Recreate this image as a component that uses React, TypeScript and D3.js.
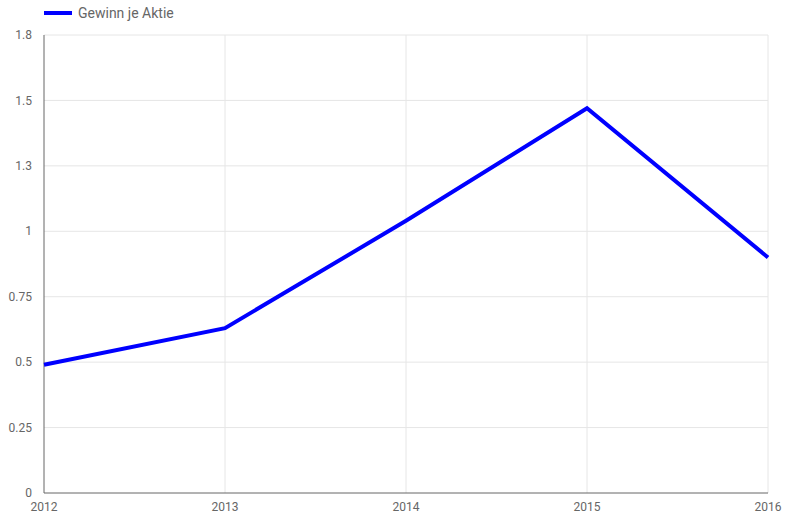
import React from "react";
import * as d3 from "d3";

const years = ["2012", "2013", "2014", "2015", "2016"];
const values = [0.49, 0.63, 1.04, 1.47, 0.9];
const yTicks = [0, 0.25, 0.5, 0.75, 1, 1.25, 1.5, 1.75];
const yTickLabels = ["0", "0.25", "0.5", "0.75", "1", "1.3", "1.5", "1.8"];
const seriesName = "Gewinn je Aktie";

const W = 802;
const H = 527;
const m = { left: 44, right: 34, top: 35, bottom: 34 };

export default function App() {
  const x = d3.scalePoint<string>().domain(years).range([m.left, W - m.right]);
  const y = d3.scaleLinear().domain([0, 1.75]).range([H - m.bottom, m.top]);
  const line = d3
    .line<number>()
    .x((_, i) => x(years[i]) as number)
    .y((d) => y(d));
  const font = "Roboto, sans-serif";
  return (
    <svg width={W} height={H} style={{ position: "absolute", left: 0, top: 0 }}>
      <rect width={W} height={H} fill="#fff" />
      {yTicks.map((t, i) =>
        i === 0 ? null : (
          <line key={"g" + i} x1={m.left} x2={W - m.right} y1={y(t)} y2={y(t)} stroke="#e6e6e6" strokeWidth={1} />
        )
      )}
      {years.map((yr, i) =>
        i === 0 ? null : (
          <line key={"v" + i} x1={x(yr)} x2={x(yr)} y1={m.top} y2={H - m.bottom} stroke="#e6e6e6" strokeWidth={1} />
        )
      )}
      <line x1={m.left} x2={m.left} y1={m.top} y2={H - m.bottom} stroke="#666" strokeWidth={1} />
      <line x1={m.left} x2={W - m.right} y1={H - m.bottom} y2={H - m.bottom} stroke="#666" strokeWidth={1} />
      {yTicks.map((t, i) => (
        <text key={"yl" + i} x={32} y={y(t)} dy="0.35em" textAnchor="end" fontFamily={font} fontSize={12} fill="#666">
          {yTickLabels[i]}
        </text>
      ))}
      {years.map((yr) => (
        <text key={"xl" + yr} x={x(yr)} y={H - m.bottom + 18} textAnchor="middle" fontFamily={font} fontSize={12} fill="#666">
          {yr}
        </text>
      ))}
      <path d={line(values) || ""} fill="none" stroke="#0000ff" strokeWidth={4} strokeLinejoin="miter" />
      <line x1={44} x2={72} y1={13} y2={13} stroke="#0000ff" strokeWidth={4} />
      <text x={78} y={13} dy="0.35em" fontFamily={font} fontSize={14} fill="#666">
        {seriesName}
      </text>
    </svg>
  );
}
